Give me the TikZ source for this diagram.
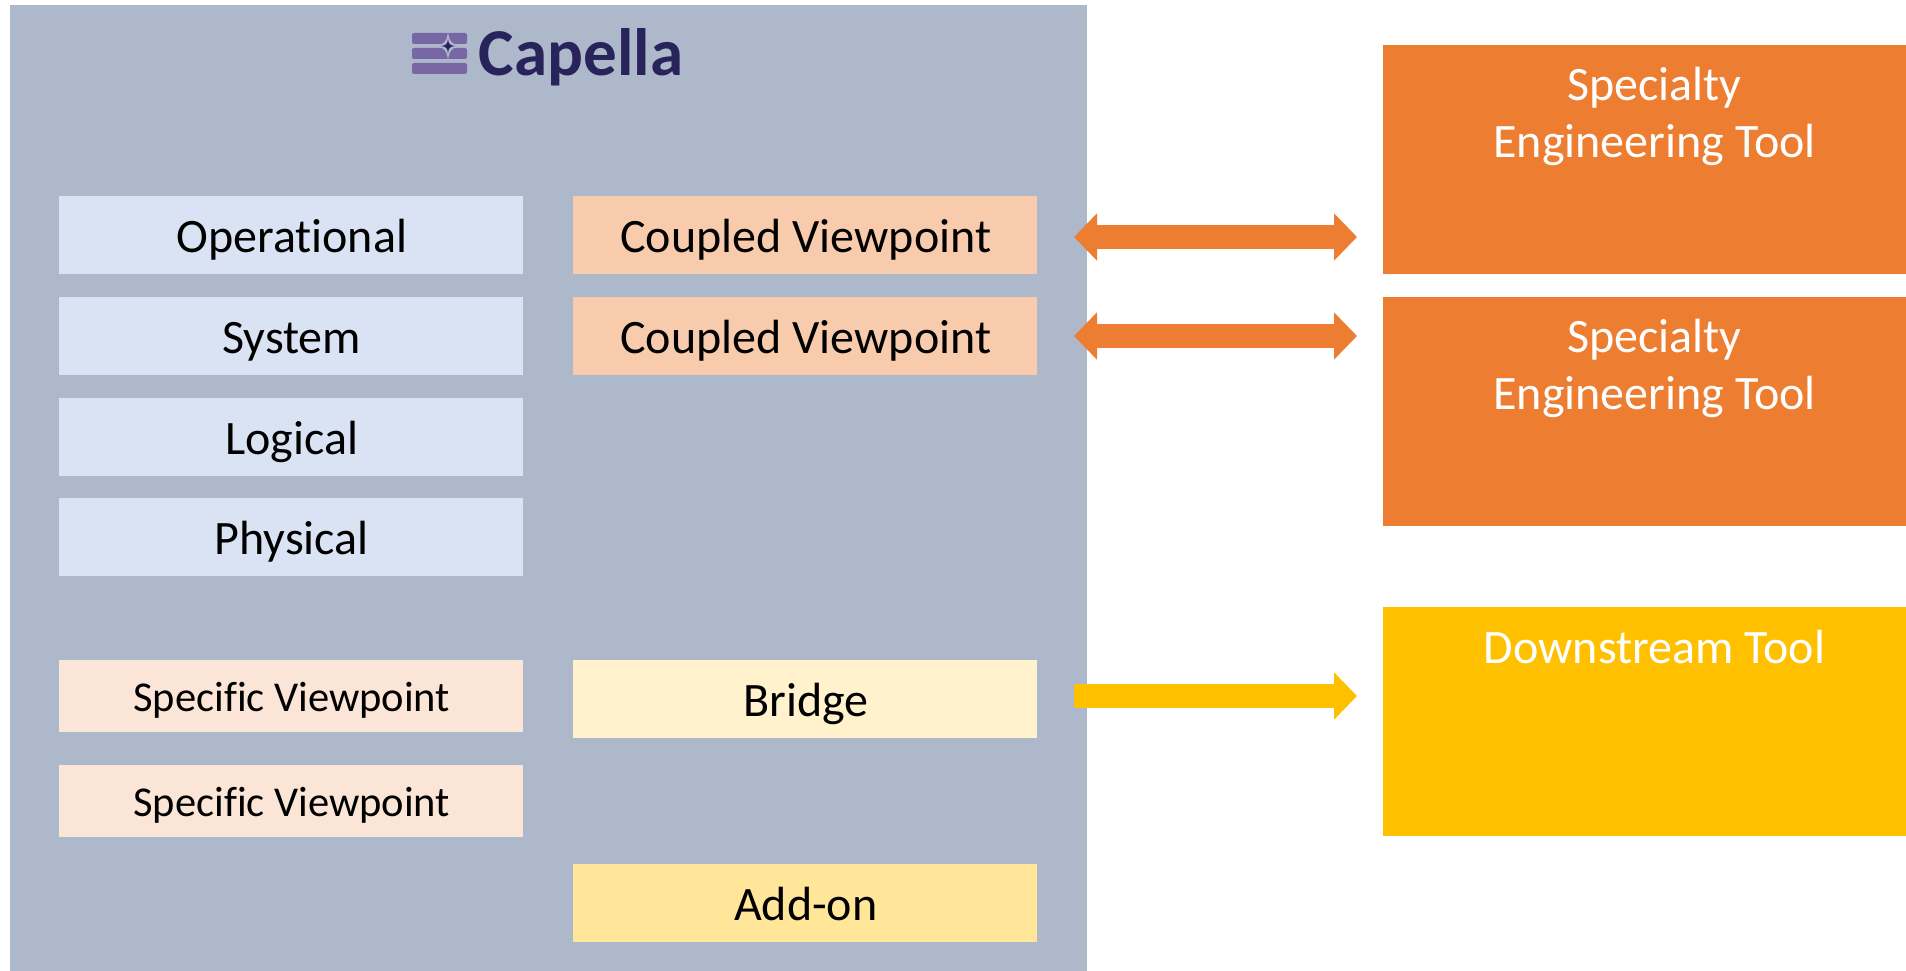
\documentclass[tikz,border=0pt]{standalone}
\usepackage{fontspec}
\setmainfont[Ligatures=CommonOff]{Carlito}
\usetikzlibrary{arrows.meta}
\definecolor{panelc}{HTML}{ADB9CA}
\definecolor{bluec}{HTML}{DAE3F3}
\definecolor{coupledc}{HTML}{F8CBAD}
\definecolor{specc}{HTML}{FBE5D6}
\definecolor{bridgec}{HTML}{FFF2CC}
\definecolor{addonc}{HTML}{FFE699}
\definecolor{orangec}{HTML}{ED7D31}
\definecolor{yellowc}{HTML}{FFC000}
\definecolor{navyc}{HTML}{29235C}
\definecolor{purplec}{HTML}{7767A5}
\tikzset{
  x=1pt,y=-1pt,
  box/.style={anchor=center,minimum width=464pt,minimum height=78pt,inner sep=0pt,text=black,text height=35pt,text depth=1pt,font=\fontsize{48}{48}\selectfont,execute at begin node=\hspace*{1.6pt}},
  smallbox/.style={box,minimum height=72pt,fill=specc,text height=31pt,text depth=0pt,font=\fontsize{42.5}{42.5}\selectfont},
  tool/.style={anchor=north west,minimum width=523pt,minimum height=228.5pt,inner sep=0pt},
  toollabel/.style={anchor=center,text=white,align=center,inner sep=0pt,font=\fontsize{48}{57}\selectfont},
  flow/.style={line width=24pt,draw=#1},
  bar/.style={fill=purplec,rounded corners=2pt}
}
\begin{document}
\begin{tikzpicture}
\useasboundingbox (0,0) rectangle (1906,971);
\fill[white] (0,0) rectangle (1906,971);
\node[anchor=north west,minimum width=1077pt,minimum height=966pt,inner sep=0pt,fill=panelc] (panel) at (10,5) {};
% logo
\fill[bar] (412,33) rectangle (467,44);
\fill[bar] (412,48) rectangle (467,59);
\fill[bar] (412,63) rectangle (467,74);
\fill[panelc] (448,31) .. controls (449,42) and (452,45) .. (463,46) .. controls (452,47) and (449,50) .. (448,61) .. controls (447,50) and (444,47) .. (433,46) .. controls (444,45) and (447,42) .. (448,31) -- cycle;
\fill[navyc] (448,39) .. controls (448.5,44) and (450,45.5) .. (455,46) .. controls (450,46.5) and (448.5,48) .. (448,53) .. controls (447.5,48) and (446,46.5) .. (441,46) .. controls (446,45.5) and (447.5,44) .. (448,39) -- cycle;
\node[anchor=center,inner sep=0pt,text=navyc,font=\fontsize{67}{67}\selectfont\bfseries] (capella) at (581,57) {Capella};
% left column
\node[box,fill=bluec] (op) at (291,235) {Operational};
\node[box,fill=bluec] (sys) at (291,336) {System};
\node[box,fill=bluec] (log) at (291,437) {Logical};
\node[box,fill=bluec] (phy) at (291,537) {Physical};
\node[smallbox] (sp1) at (291,695.5) {Specific Viewpoint};
\node[smallbox] (sp2) at (291,801) {Specific Viewpoint};
% right column
\node[box,fill=coupledc] (cv1) at (805,235) {Coupled Viewpoint};
\node[box,fill=coupledc] (cv2) at (805,336) {Coupled Viewpoint};
\node[box,fill=bridgec] (bridge) at (805,699) {Bridge};
\node[box,fill=addonc] (addon) at (805,903) {Add-on};
% tools
\node[tool,fill=orangec] (t1) at (1383,45) {};
\node[tool,fill=orangec] (t2) at (1383,297) {};
\node[tool,fill=yellowc] (t3) at (1383,607) {};
\node[toollabel] (t1l) at (1654.6,116.5) {Specialty\\Engineering Tool};
\node[toollabel] (t2l) at (1654.6,368.5) {Specialty\\Engineering Tool};
\node[toollabel] (t3l) at (1654.6,647) {Downstream Tool};
% connector ends
\coordinate (a1) at (1074,237); \coordinate (b1) at (1357,237);
\coordinate (a2) at (1074,336); \coordinate (b2) at (1357,336);
\coordinate (a3) at (1074,696); \coordinate (b3) at (1357,696);
\draw[flow=orangec,{Triangle[length=23pt,width=46pt]}-{Triangle[length=23pt,width=46pt]}] (a1) -- (b1);
\draw[flow=orangec,{Triangle[length=23pt,width=46pt]}-{Triangle[length=23pt,width=46pt]}] (a2) -- (b2);
\draw[flow=yellowc,-{Triangle[length=23pt,width=46pt]}] (a3) -- (b3);
\end{tikzpicture}
\end{document}
